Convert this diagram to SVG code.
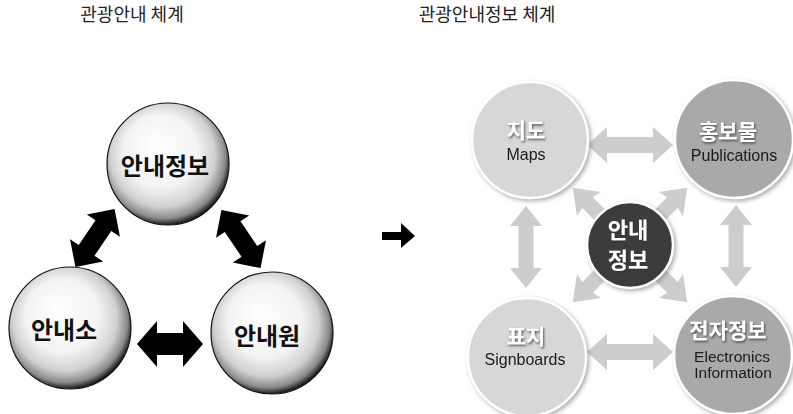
<svg xmlns="http://www.w3.org/2000/svg" width="793" height="414" viewBox="0 0 793 414">
<style>
  .title{font-family:"Noto Sans CJK KR","Noto Sans",sans-serif;font-size:18px;fill:#222;text-anchor:middle}
  .sph{font-family:"Noto Sans CJK KR","Noto Sans",sans-serif;font-size:24px;font-weight:bold;fill:#111;text-anchor:middle}
  .ko{font-family:"Noto Sans CJK KR","Noto Sans",sans-serif;font-size:21px;font-weight:bold;fill:#fff;text-anchor:middle}
  .en{font-family:"Liberation Sans",Arial,sans-serif;font-size:16px;fill:#1a1a1a;text-anchor:middle}
  .blk{fill:#000}
  .gry{fill:#cdcdcd}
  .sphere{fill:url(#sg);stroke:#111;stroke-width:1.2}
  .light{fill:#d7d7d7;stroke:#fff;stroke-width:2.5}
  .dark{fill:#a9a9a9;stroke:#fff;stroke-width:2.5}
</style>
<defs>
  <radialGradient id="sg" cx="0.47" cy="0.45" r="0.55" fx="0.4" fy="0.33">
    <stop offset="0" stop-color="#ffffff"/>
    <stop offset="0.55" stop-color="#f3f3f3"/>
    <stop offset="0.78" stop-color="#d0d0d0"/>
    <stop offset="0.92" stop-color="#8a8a8a"/>
    <stop offset="1" stop-color="#1a1a1a"/>
  </radialGradient>
  <filter id="sh" x="-20%" y="-20%" width="140%" height="140%">
    <feDropShadow dx="2" dy="2" stdDeviation="2" flood-color="#777" flood-opacity="0.6"/>
  </filter>
  <filter id="tsh" x="-20%" y="-30%" width="140%" height="160%">
    <feDropShadow dx="1" dy="1.5" stdDeviation="1" flood-color="#333" flood-opacity="0.8"/>
  </filter>
  <polygon id="dbl" points="-35,0 -15,-20 -15,-9.5 15,-9.5 15,-20 35,0 15,20 15,9.5 -15,9.5 -15,20"/>
  <polygon id="dblh" points="-33,0 -13,-23 -13,-11 13,-11 13,-23 33,0 13,23 13,11 -13,11 -13,23"/>
  <polygon id="gh" points="-43,0 -23,-18 -23,-8 23,-8 23,-18 43,0 23,18 23,8 -23,8 -23,18"/>
  <polygon id="gv" points="-41,0 -21,-16 -21,-7.5 21,-7.5 21,-16 41,0 21,16 21,7.5 -21,7.5 -21,16"/>
  <polygon id="one" points="0,-7.5 60,-7.5 58,-17 81,0 58,17 60,7.5 0,7.5"/>
</defs>

<text class="title" x="132" y="21">관광안내 체계</text>
<text class="title" x="487" y="21">관광안내정보 체계</text>

<g id="connectors">
  <use href="#dbl" class="blk" transform="translate(95,238) rotate(-56)"/>
  <use href="#dbl" class="blk" transform="translate(241,239) rotate(56)"/>
  <use href="#dblh" class="blk" transform="translate(170,344)"/>
  <g id="transition-arrow">
    <rect x="382" y="232" width="20" height="8" class="blk"/>
    <polygon points="401,223 415,236 401,248" class="blk"/>
  </g>
  <use href="#gh" class="gry" transform="translate(630,145)"/>
  <use href="#gh" class="gry" transform="translate(630,352)"/>
  <use href="#gv" class="gry" transform="translate(526,247) rotate(90)"/>
  <use href="#gv" class="gry" transform="translate(736,246) rotate(90)"/>
  <use href="#one" class="gry" transform="translate(630,245) rotate(-135)"/>
  <use href="#one" class="gry" transform="translate(630,245) rotate(-45)"/>
  <use href="#one" class="gry" transform="translate(630,245) rotate(135)"/>
  <use href="#one" class="gry" transform="translate(630,245) rotate(45)"/>
</g>

<g id="node-info">
  <circle cx="168" cy="164" r="61" class="sphere"/>
  <text class="sph" x="165" y="175">안내정보</text>
</g>
<g id="node-center">
  <circle cx="70" cy="328" r="61" class="sphere"/>
  <text class="sph" x="64" y="339">안내소</text>
</g>
<g id="node-guide">
  <circle cx="272" cy="333" r="61" class="sphere"/>
  <text class="sph" x="267" y="345">안내원</text>
</g>

<g id="node-maps" filter="url(#sh)">
  <circle cx="530" cy="140" r="58" class="light"/>
  <text class="ko" x="526" y="138" filter="url(#tsh)">지도</text>
  <text class="en" x="526" y="160">Maps</text>
</g>
<g id="node-publications" filter="url(#sh)">
  <circle cx="734" cy="139" r="59" class="dark"/>
  <text class="ko" x="728" y="139" filter="url(#tsh)">홍보물</text>
  <text class="en" x="734" y="161">Publications</text>
</g>
<g id="node-signboards" filter="url(#sh)">
  <circle cx="527" cy="357" r="59" class="light"/>
  <text class="ko" x="526" y="344" filter="url(#tsh)">표지</text>
  <text class="en" x="525" y="365">Signboards</text>
</g>
<g id="node-electronic" filter="url(#sh)">
  <circle cx="733" cy="355" r="59" class="dark"/>
  <text class="ko" x="728" y="338" filter="url(#tsh)">전자정보</text>
  <text class="en" x="732" y="362" style="font-size:15.5px">Electronics</text>
  <text class="en" x="733" y="378" style="font-size:15.5px">Information</text>
</g>
<g id="node-guideinfo" filter="url(#sh)">
  <circle cx="630" cy="245" r="43" fill="#3e3b3b" stroke="#fff" stroke-width="2.5"/>
  <text class="ko" x="628" y="238" style="font-size:22px" filter="url(#tsh)">안내</text>
  <text class="ko" x="628" y="268" style="font-size:22px" filter="url(#tsh)">정보</text>
</g>
</svg>
